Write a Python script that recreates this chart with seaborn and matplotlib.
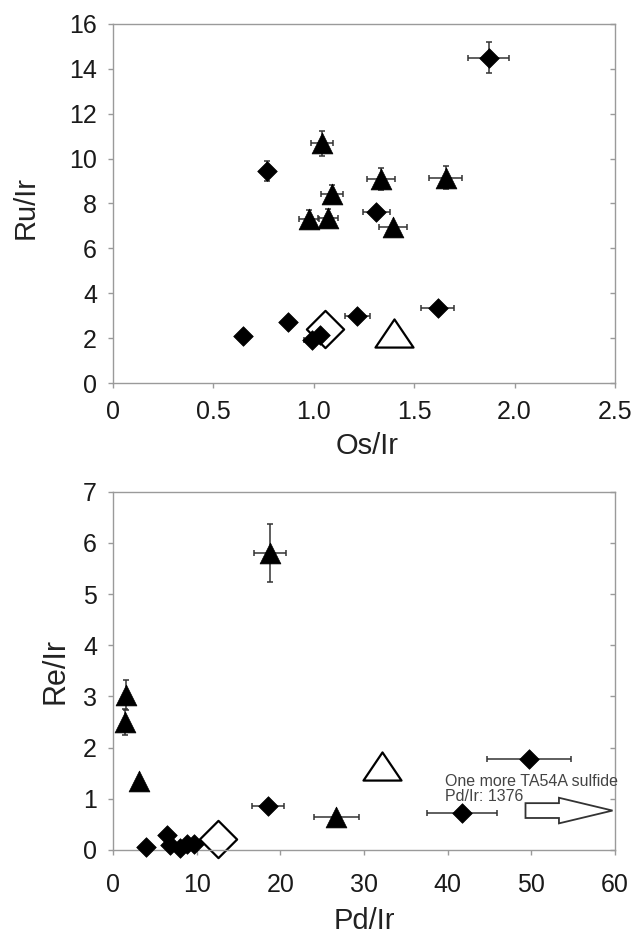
import numpy as np
import pandas as pd
import matplotlib
matplotlib.use("Agg")
import matplotlib.pyplot as plt
from matplotlib.path import Path
from matplotlib.patches import FancyArrow
import seaborn as sns

# ---- Ru/Ir vs Os/Ir ----
os_dia = [1.87, 0.765, 1.311, 1.616, 1.217, 0.871, 0.649, 0.989, 1.031]
ru_dia = [14.5, 9.45, 7.6, 3.34, 2.99, 2.74, 2.11, 1.90, 2.14]
os_dia_err = [0.10, 0.0, 0.067, 0.08, 0.062, 0.0, 0.0, 0.04, 0.0]
ru_dia_err = [0.70, 0.45, 0.0, 0.0, 0.0, 0.0, 0.0, 0.0, 0.0]

os_tri = [1.04, 1.335, 1.656, 1.092, 0.977, 1.072, 1.394]
ru_tri = [10.68, 9.1, 9.15, 8.41, 7.3, 7.35, 6.97]
os_tri_err = [0.054, 0.07, 0.083, 0.055, 0.05, 0.05, 0.071]
ru_tri_err = [0.55, 0.5, 0.5, 0.4, 0.4, 0.4, 0.0]

os_open_dia, ru_open_dia = [1.055], [2.41]
os_open_tri, ru_open_tri = [1.40], [2.22]

# ---- Re/Ir vs Pd/Ir ----
pd_dia = [4.0, 6.5, 6.8, 8.0, 8.8, 9.7, 18.5, 41.7, 49.7]
re_dia = [0.05, 0.30, 0.10, 0.04, 0.12, 0.12, 0.86, 0.73, 1.78]
pd_dia_err = [0, 0, 0, 0, 0, 0, 1.9, 4.2, 5.0]
re_dia_err = [0, 0, 0, 0, 0, 0, 0, 0, 0]

pd_tri = [1.5, 1.4, 3.1, 18.8, 26.7]
re_tri = [3.03, 2.5, 1.35, 5.8, 0.65]
pd_tri_err = [0, 0, 0, 1.9, 2.7]
re_tri_err = [0.3, 0.25, 0.0, 0.57, 0.0]

pd_open_dia, re_open_dia = [12.6], [0.22]
pd_open_tri, re_open_tri = [32.2], [1.65]

note_text = "One more TA54A sulfide\nPd/Ir: 1376"
note_xy = (39.7, 0.96)
arrow_tail, arrow_tip, arrow_y = 49.3, 59.7, 0.77

top_xticks = [0, 0.5, 1.0, 1.5, 2.0, 2.5]
top_xticklabels = ["0", "0.5", "1.0", "1.5", "2.0", "2.5"]
top_yticks = list(range(0, 17, 2))
bot_xticks = list(range(0, 61, 10))
bot_yticks = list(range(0, 8))

sns.set_theme(style="white")
plt.rcParams["font.family"] = ["Liberation Sans", "DejaVu Sans"]

SPINE = "#9a9a9a"
INK = "#1a1a1a"
ERR = "#333333"

wide_tri = Path([(-1.0, -0.74), (1.0, -0.74), (0.0, 0.74), (-1.0, -0.74)],
                [Path.MOVETO, Path.LINETO, Path.LINETO, Path.CLOSEPOLY])

fig = plt.figure(figsize=(6.37, 9.36), dpi=100)
ax1 = fig.add_axes([0.1774, 0.5908, 0.7881, 0.3836])
ax2 = fig.add_axes([0.1774, 0.0919, 0.7881, 0.3828])


def draw_panel(ax, xd, yd, xde, yde, xt, yt, xte, yte, xod, yod, xot, yot):
    # open symbols sit underneath the filled ones
    od = pd.DataFrame({"x": xod, "y": yod})
    ot = pd.DataFrame({"x": xot, "y": yot})
    sns.scatterplot(data=od, x="x", y="y", ax=ax, marker="D", s=360,
                    facecolor="white", edgecolor="black", linewidth=1.6,
                    zorder=2, clip_on=False)
    sns.scatterplot(data=ot, x="x", y="y", ax=ax, marker=wide_tri, s=750,
                    facecolor="white", edgecolor="black", linewidth=1.6,
                    zorder=2, clip_on=False)
    ax.errorbar(xd, yd, xerr=xde, yerr=yde, fmt="none", ecolor=ERR,
                elinewidth=1.1, capsize=2.5, capthick=1.1, zorder=3, clip_on=False)
    ax.errorbar(xt, yt, xerr=xte, yerr=yte, fmt="none", ecolor=ERR,
                elinewidth=1.1, capsize=2.5, capthick=1.1, zorder=3, clip_on=False)
    dd = pd.DataFrame({"x": xd, "y": yd})
    dt = pd.DataFrame({"x": xt, "y": yt})
    sns.scatterplot(data=dd, x="x", y="y", ax=ax, marker="D", s=100,
                    color="black", edgecolor="black", linewidth=0.5,
                    zorder=4, clip_on=False)
    sns.scatterplot(data=dt, x="x", y="y", ax=ax, marker="^", s=225,
                    color="black", edgecolor="black", linewidth=0.5,
                    zorder=4, clip_on=False)


draw_panel(ax1, os_dia, ru_dia, os_dia_err, ru_dia_err,
           os_tri, ru_tri, os_tri_err, ru_tri_err,
           os_open_dia, ru_open_dia, os_open_tri, ru_open_tri)
draw_panel(ax2, pd_dia, re_dia, pd_dia_err, re_dia_err,
           pd_tri, re_tri, pd_tri_err, re_tri_err,
           pd_open_dia, re_open_dia, pd_open_tri, re_open_tri)

# annotation for the off-scale sulfide
ax2.text(note_xy[0], note_xy[1], note_text, fontsize=11.5, color="#444444",
         ha="left", va="baseline", linespacing=1.0, zorder=5)
ax2.add_patch(FancyArrow(arrow_tail, arrow_y, arrow_tip - arrow_tail, 0,
                         width=0.29, head_width=0.5, head_length=6.4,
                         length_includes_head=True, facecolor="white",
                         edgecolor="#333333", linewidth=1.3, zorder=5,
                         clip_on=False))

for ax, xt, xtl, yt, xl, yl in [
    (ax1, top_xticks, top_xticklabels, top_yticks, (0, 2.5), (0, 16)),
    (ax2, bot_xticks, [str(v) for v in bot_xticks], bot_yticks, (0, 60), (0, 7)),
]:
    ax.set_xlim(*xl)
    ax.set_ylim(*yl)
    ax.set_xticks(xt)
    ax.set_xticklabels(xtl)
    ax.set_yticks(yt)
    ax.set_yticklabels([str(v) for v in yt])
    for sp in ax.spines.values():
        sp.set_color(SPINE)
        sp.set_linewidth(1.0)
    ax.tick_params(axis="both", which="major", direction="out", length=3.5,
                   width=1.0, color=SPINE, labelsize=18, labelcolor=INK,
                   bottom=True, left=True)
    ax.tick_params(axis="y", pad=8)
    twin = ax.twinx()
    twin.set_ylim(*yl)
    twin.set_yticks(yt)
    twin.tick_params(axis="y", direction="in", length=3.5, width=1.0,
                     color=SPINE, labelright=False)
    for sp in twin.spines.values():
        sp.set_visible(False)
    twin.grid(False)

ax1.tick_params(axis="x", pad=9)
ax2.tick_params(axis="x", pad=13)

ax1.set_xlabel("Os/Ir", fontsize=21, color="#222222", va="center")
ax1.set_ylabel("Ru/Ir", fontsize=21, color="#222222", va="center")
ax2.set_xlabel("Pd/Ir", fontsize=21, color="#222222", va="center")
ax2.set_ylabel("Re/Ir", fontsize=22, color="#222222", va="center")
ax1.xaxis.set_label_coords(0.506, -0.175)
ax1.yaxis.set_label_coords(-0.175, 0.49)
ax2.xaxis.set_label_coords(0.50, -0.198)
ax2.yaxis.set_label_coords(-0.115, 0.50)

fig.savefig("out.png", dpi=100)
